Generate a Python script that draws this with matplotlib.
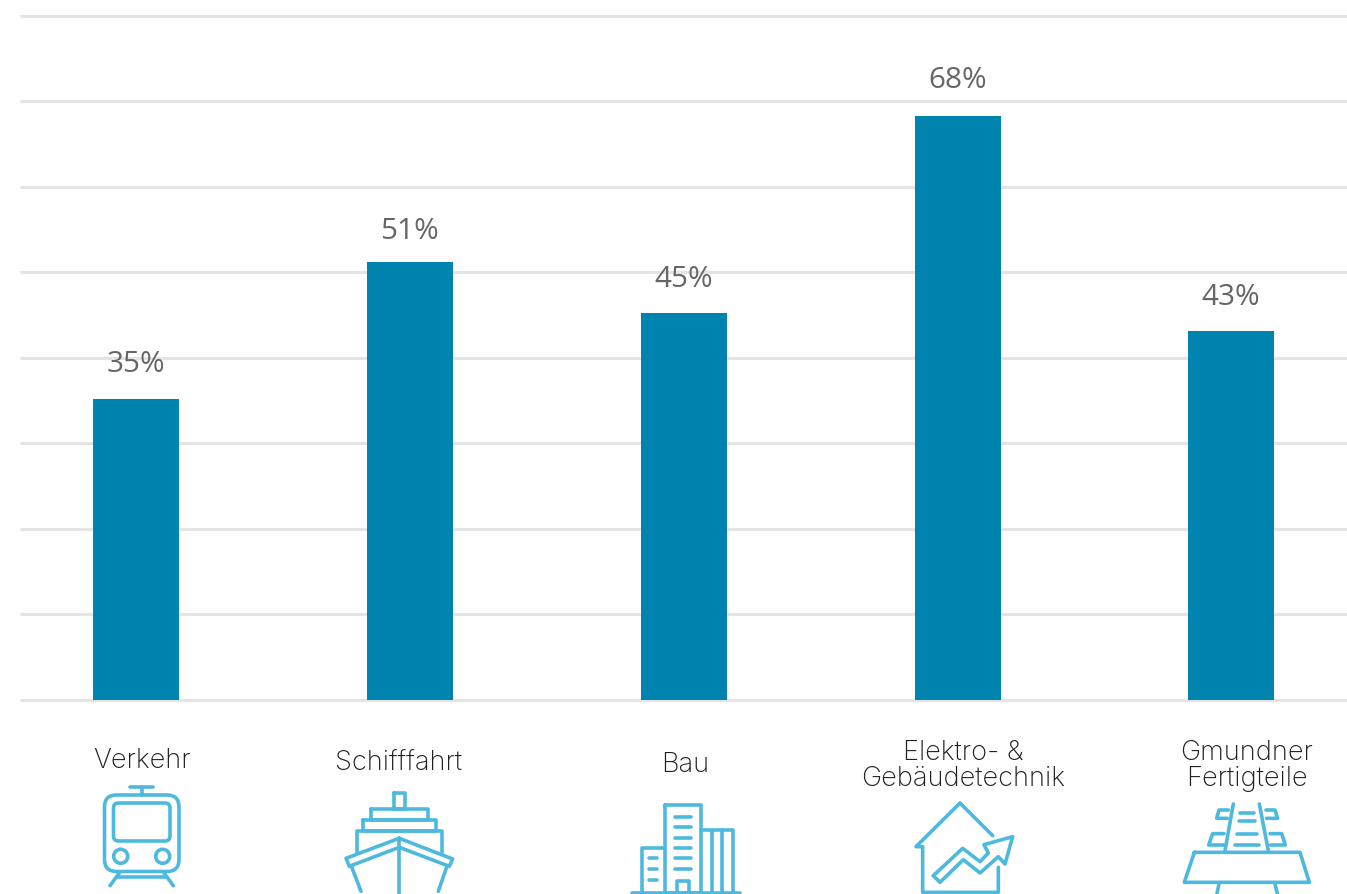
import matplotlib
matplotlib.use("Agg")
import matplotlib.pyplot as plt
import numpy as np
from matplotlib.patches import FancyBboxPatch, Circle

W, H = 1347, 895

categories = ["Verkehr", "Schifffahrt", "Bau", "Elektro- &\nGebäudetechnik", "Gmundner\nFertigteile"]
shares = [35, 51, 45, 68, 43]
grid_levels = [0, 9.965, 19.93, 29.895, 39.86, 49.825, 59.79, 69.755, 79.72]
label_x_px = [141.5, 399, 685.5, 963, 1246.5]
label_y_px = [761, 764, 765, 766, 766]
value_x_px = [136, 410, 684, 957.5, 1231]
value_y_px = [364, 231.5, 279.5, 80.5, 297.5]

BAR = "#0083AF"
GRID = "#E4E4E4"
ICON = "#4DB9DF"
VALUE_TEXT = "#666666"
LABEL_TEXT = "#1E1E1E"

fig = plt.figure(figsize=(W / 100, H / 100), dpi=100, facecolor="white")

# Bar chart: baseline at y=700.5 px, 8.58 px per percentage point
ax = fig.add_axes([20 / W, (H - 700.5) / H, (W - 20) / W, 700.5 / H])
ax.set_xlim(-116.4 / 273.75, (W - 136.4) / 273.75)
ax.set_ylim(0, 700.5 / 8.58)
for s in ax.spines.values():
    s.set_visible(False)
ax.set_xticks([])
ax.set_yticks([])
for lvl in grid_levels:
    ax.axhline(lvl, color=GRID, linewidth=2.2, clip_on=False, zorder=1, solid_capstyle="butt")

x = np.arange(len(categories))
ax.bar(x, shares, width=86 / 273.75, color=BAR, zorder=3)

# Overlay in pixel coordinates for the captions, value labels and pictograms
ov = fig.add_axes([0, 0, 1, 1], facecolor="none")
ov.set_xlim(0, W)
ov.set_ylim(H, 0)
ov.axis("off")

for v, lx, ly in zip(shares, value_x_px, value_y_px):
    ov.text(lx, ly, f"{v}%", ha="center", va="center", fontsize=21.4, color=VALUE_TEXT,
            family="Open Sans")

for name, lx, ly in zip(categories, label_x_px, label_y_px):
    ov.text(lx, ly, name, ha="center", va="center", fontsize=19.6, color=LABEL_TEXT,
            family="Inter", fontweight="light", linespacing=1.0)

LW = 2.6
style = dict(color=ICON, lw=LW, solid_capstyle="round", solid_joinstyle="round")


def line(pts, closed=False):
    pts = list(pts)
    if closed:
        pts = pts + [pts[0]]
    xs, ys = zip(*pts)
    ov.plot(xs, ys, **style)


def zoomed(pts, ox, oy):
    return [(px / 3 + ox, py / 3 + oy) for px, py in pts]


def rrect(x0, y0, x1, y1, r):
    ov.add_patch(FancyBboxPatch((x0 + r, y0 + r), x1 - x0 - 2 * r, y1 - y0 - 2 * r,
                                boxstyle=f"round,pad={r},rounding_size={r}",
                                fc="none", ec=ICON, lw=LW))


def rect(x0, y0, x1, y1):
    line([(x0, y0), (x1, y0), (x1, y1), (x0, y1)], closed=True)


# Tram
rrect(104.5, 796, 179, 872.5, 12)
rrect(113.5, 804, 170, 842, 5)
ov.add_patch(Circle((120.7, 857.3), 7, fc="none", ec=ICON, lw=LW))
ov.add_patch(Circle((162.7, 857.3), 7, fc="none", ec=ICON, lw=LW))
line([(130, 787.7), (153.3, 787.7)])
line([(141.7, 787.7), (141.7, 796)])
line([(119.3, 874), (110, 886.7)])
line([(164, 874), (173.3, 886.7)])
line([(117.3, 878.3), (166.7, 878.3)])

# Ship
rect(394, 794, 405, 810)
rect(370.7, 810, 428.3, 820.7)
rect(363.3, 820.7, 435.7, 831.7)
line([(356.7, 854), (356.7, 831.7), (442.3, 831.7), (442.3, 854)])
line([(399.3, 839.3), (346, 859.3), (349.3, 867.3), (399.3, 848.3),
      (449.3, 867.3), (452.7, 860)], closed=True)
line([(399.3, 839.3), (399.3, 897)])
line([(351.7, 868), (361, 892.3)])
line([(446.7, 868), (438.3, 892.3)])

# Buildings
rect(665, 806, 700.7, 893.5)
line([(700.7, 831), (733.3, 831), (733.3, 893.5)])
line([(711.7, 831), (711.7, 893.5)])
line([(721.7, 831), (721.7, 893.5)])
line([(665, 849), (641.7, 849), (641.7, 893.5)])
line([(632.3, 893.7), (740, 893.7)])
for yy in [817.7, 828.3, 838.7, 849, 859.3, 870]:
    line([(675, yy), (690.7, yy)])
for yy in [859.3, 870, 880.7]:
    line([(649.3, yy), (656.7, yy)])
line([(676.7, 893.5), (676.7, 881.7), (689.3, 881.7), (689.3, 893.5)])

# House with rising arrow
line(zoomed([(1178, 320), (1080, 222), (948, 353), (968, 353), (968, 490),
             (1195, 490), (1195, 415)], 600, 730))
line(zoomed([(1000, 440), (1088, 358), (1140, 398), (1165, 372), (1152, 347),
             (1238, 323), (1215, 405), (1195, 383), (1140, 432), (1090, 392),
             (1020, 460)], 600, 730), closed=True)

# Railway track on a ballast bed
for seg in [[(400, 225), (375, 365)], [(478, 225), (505, 365)],
            [(420, 253), (462, 253)], [(418, 277), (465, 277)],
            [(410, 314), (472, 314)], [(405, 347), (478, 347)],
            [(385, 243), (357, 243), (350, 268), (382, 268)],
            [(372, 314), (338, 314), (326, 348), (372, 348)],
            [(498, 243), (525, 243), (533, 268), (500, 268)],
            [(510, 314), (545, 314), (556, 348), (512, 348)],
            [(357, 465), (350, 498)], [(525, 465), (533, 498)]]:
    line(zoomed(seg, 1100, 730))
line(zoomed([(283, 370), (600, 370), (628, 460), (253, 460)], 1100, 730), closed=True)

ov.set_xlim(0, W)
ov.set_ylim(H, 0)
fig.savefig("out.png", dpi=100, facecolor="white")
